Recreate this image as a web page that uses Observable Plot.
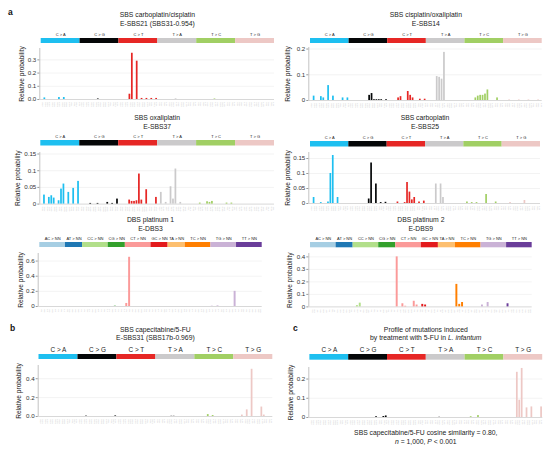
<!DOCTYPE html>
<html><head><meta charset="utf-8">
<script src="https://cdn.jsdelivr.net/npm/d3@7"></script>
<script src="https://cdn.jsdelivr.net/npm/@observablehq/plot@0.6"></script>
<style>
body{margin:0;background:#fff;font-family:"Liberation Sans",Arial,sans-serif;color:#222;}
#fig{position:relative;width:560px;height:451px;overflow:hidden;background:#fff;}
.abs{position:absolute;}
.title{position:absolute;text-align:center;font-size:6.8px;line-height:8.6px;color:#222;white-space:nowrap;}
.plab{position:absolute;font-weight:bold;font-size:8.5px;color:#111;}
</style></head><body><div id="fig"></div>
<script>
// ---------- categories ----------
const sbsTypes = ["C > A","C > G","C > T","T > A","T > C","T > G"];
const sbsColors = ["#1ebff0","#050708","#e62725","#cbcacb","#a1cf64","#edc8c5"];
const sbsContexts = ["A_A","A_C","A_G","A_T","C_A","C_C","C_G","C_T","G_A","G_C","G_G","G_T","T_A","T_C","T_G","T_T"];
const dbsTypes = ["AC > NN","AT > NN","CC > NN","CG > NN","CT > NN","GC > NN","TA > NN","TC > NN","TG > NN","TT > NN"];
const dbsCounts = [9,6,9,6,9,6,6,9,9,9];
const dbsColors = ["#a6cee3","#1f78b4","#b2df8a","#33a02c","#fb9a99","#e31a1c","#fdbf6f","#ff7f00","#cab2d6","#6a3d9a"];
const dbsAlts = [
  ["CA","CG","CT","GA","GG","GT","TA","TG","TT"],
  ["CA","CC","CG","GA","GC","TA"],
  ["AA","AG","AT","GA","GG","GT","TA","TG","TT"],
  ["AT","GC","GT","TA","TC","TT"],
  ["AA","AC","AG","GA","GC","GG","TA","TC","TG"],
  ["AA","AG","AT","CA","CG","TA"],
  ["AT","CG","CT","GC","GG","GT"],
  ["AA","AG","AT","CA","CG","CT","GA","GG","GT"],
  ["AA","AC","AT","CA","CC","CT","GA","GC","GT"],
  ["AA","AC","AG","CA","CC","CG","GA","GC","GG"]
];

// ---------- series values ----------
// SBS arrays: 96 values, 16 per mutation type (C>A, C>G, C>T, T>A, T>C, T>G)
const eSBS21 = [
  0,0.012,0,0,0,0,0,0.015,0,0.015,0,0,0,0,0,0,
  0,0,0,0,0,0,0,0.004,0,0,0,0,0,0,0,0,
  0,0,0,0,0.04,0.35,0,0.29,0,0.008,0,0.008,0,0.008,0,0.008,
  0,0,0,0,0,0,0,0.005,0,0,0,0,0,0,0,0,
  0,0,0,0,0,0,0,0.004,0,0,0,0,0,0,0,0,
  0,0,0,0,0,0,0,0,0,0,0,0,0,0,0,0
];
const eSBS14 = [
  0,0.017,0,0,0.015,0.01,0,0.058,0,0.017,0,0,0,0.01,0,0.01,
  0,0,0,0,0,0,0,0,0.02,0.027,0.003,0.003,0.003,0.003,0,0.003,
  0,0,0,0,0.01,0.015,0,0,0.035,0.02,0.01,0,0,0.005,0,0.005,
  0,0,0,0,0.093,0.09,0.083,0.187,0,0,0,0,0,0,0,0,
  0,0,0,0,0.01,0.017,0.02,0.02,0.025,0.041,0,0,0,0.01,0,0,
  0,0,0.002,0,0,0,0.002,0,0,0,0.002,0,0,0,0.002,0
];
const eSBS37 = [
  0,0.027,0,0.02,0.025,0.018,0,0.01,0.045,0.06,0,0.035,0,0.047,0,0.068,
  0,0,0,0,0.002,0,0,0.002,0,0,0,0.005,0,0.002,0,0.015,
  0,0,0,0,0.012,0.008,0.008,0.01,0.09,0.012,0,0.043,0,0,0,0.02,
  0,0.035,0,0.005,0,0.052,0.015,0.105,0,0.005,0,0,0,0,0,0,
  0,0.003,0,0,0.007,0.005,0.008,0,0,0,0,0,0.003,0,0.003,0,
  0,0,0,0,0,0,0,0,0,0,0,0,0,0,0,0
];
const eSBS25 = [
  0,0.02,0,0,0.003,0,0,0.005,0.1,0.16,0,0.02,0,0,0,0,
  0,0,0,0,0,0,0,0,0.015,0.135,0,0.065,0,0.003,0,0.004,
  0,0,0,0,0.005,0,0,0.003,0.07,0.038,0.012,0.02,0,0.005,0,0.008,
  0,0,0,0,0.065,0,0.065,0.02,0,0,0,0,0,0,0,0,
  0,0.005,0,0.003,0,0.003,0,0,0,0.03,0,0,0,0.005,0,0,
  0,0,0,0.003,0,0,0,0,0,0.01,0,0,0,0,0,0
];
const eSBS31 = [
  0,0,0,0,0,0,0,0,0,0,0,0,0,0,0,0,
  0,0,0,0.004,0,0,0,0,0,0,0,0,0,0,0,0.006,
  0,0,0,0,0,0,0,0,0,0,0,0,0,0,0,0,
  0,0,0,0,0,0,0.01,0.01,0,0,0,0,0,0,0,0,
  0,0,0,0,0,0.02,0,0.01,0,0,0,0,0,0,0,0,
  0,0,0,0.015,0,0.07,0,0.5,0,0,0,0.1,0.015,0,0,0
];
const fuLinfantum = [
  0,0,0,0,0,0,0,0,0,0,0,0,0,0,0,0,
  0,0,0,0,0,0,0,0,0,0,0,0.004,0,0,0.005,0.008,
  0,0,0,0,0,0,0,0,0,0,0,0,0,0,0,0,
  0,0,0,0,0,0.005,0,0,0,0,0,0,0,0,0,0,
  0,0,0.004,0,0,0.01,0,0,0,0,0,0,0,0,0,0,
  0,0,0,0,0,0.235,0.09,0.255,0,0.05,0,0.055,0,0,0,0.055
];
// DBS arrays: 78 values grouped AC(9) AT(6) CC(9) CG(6) CT(9) GC(6) TA(6) TC(9) TG(9) TT(9)
const eDBS3 = [
  0,0,0,0,0,0,0,0,0,
  0,0,0,0,0,0,
  0,0,0,0,0,0,0,0,0,
  0,0,0.004,0,0,0,
  0.04,0.65,0,0,0,0,0,0,0,
  0,0,0,0,0,0,
  0,0,0,0,0,0,
  0,0,0,0,0,0,0,0,0,
  0.004,0,0.008,0,0,0,0,0,0.2,
  0,0,0,0,0,0,0,0,0
];
const eDBS9 = [
  0,0,0,0,0,0,0,0,0,
  0,0,0,0,0,0,
  0,0.01,0.03,0,0,0,0,0,0,
  0,0,0,0,0,0,
  0.4,0,0.025,0.005,0,0,0.045,0.015,0,
  0.02,0.015,0,0,0,0,
  0,0,0,0,0,0,
  0.18,0.02,0.035,0,0,0,0,0,0,
  0.015,0,0.035,0,0,0,0,0,0,
  0.025,0,0,0,0,0,0,0,0
];

// ---------- helpers ----------
function sbsRows(vals){
  return vals.map((v,i)=>{const t=Math.floor(i/16), c=sbsContexts[i%16], mid=sbsTypes[t][0];
    return {i, v, color: sbsColors[t], ctx: c[0]+mid+c[2]};});
}
function dbsRows(vals){
  const rows=[]; let i=0;
  dbsCounts.forEach((n,g)=>{for(let k=0;k<n;k++){rows.push({i, v: vals[i], color: dbsColors[g], ctx: dbsAlts[g][k]}); i++;}});
  return rows;
}
function sbsGroups(){return sbsTypes.map((t,k)=>({start:k*16,end:k*16+16,label:t,color:sbsColors[k]}));}
function dbsGroups(){let s=0;return dbsTypes.map((t,k)=>{const g={start:s,end:s+dbsCounts[k],label:t,color:dbsColors[k]};s+=dbsCounts[k];return g;});}

const fig = document.getElementById("fig");
function place(node, left, top){const d=document.createElement("div");d.className="abs";d.style.left=left+"px";d.style.top=top+"px";d.appendChild(node);fig.appendChild(d);}
function html(cls, left, top, inner, extra){const d=document.createElement("div");d.className=cls;d.style.left=left+"px";d.style.top=top+"px";d.innerHTML=inner;if(extra)Object.assign(d.style,extra);fig.appendChild(d);}

const FONT = '"Liberation Sans", Arial, sans-serif';

function panel(cfg){
  const rows = cfg.kind==="sbs" ? sbsRows(cfg.values) : dbsRows(cfg.values);
  const groups = cfg.kind==="sbs" ? sbsGroups() : dbsGroups();
  const n = rows.length, W = 280;
  const r = (cfg.x0 - cfg.axisX)/(cfg.x1 - cfg.axisX);
  const d0 = r*n/(1-r);
  const xDomain = [-d0, n];
  const mL = cfg.axisX - cfg.L0, mR = cfg.L0 + W - cfg.x1;
  const mt = 4, mb = 12;
  const H = (cfg.yZero - cfg.yTop) + mt + mb;
  const main = Plot.plot({
    width: W, height: H, marginLeft: mL, marginRight: mR, marginTop: mt, marginBottom: mb,
    x: {domain: xDomain, axis: null},
    y: {domain: [0, cfg.ymax], axis: null},
    style: {background: "transparent", fontFamily: FONT, color: "#333", overflow: "visible"},
    marks: [
      Plot.ruleY(cfg.ticks.filter(t=>t>0), {stroke: "#e6e6e6", strokeWidth: 0.5}),
      Plot.ruleY([0], {stroke: "#bdbdbd", strokeWidth: 0.6}),
      Plot.rectY(rows.filter(d=>d.v>0), {x1: "i", x2: d=>d.i+1, y: "v", fill: "color", insetLeft: cfg.inset, insetRight: cfg.inset}),
      Plot.ruleX([-d0], {stroke: "#9a9a9a", strokeWidth: 0.6}),
      Plot.axisY({ticks: cfg.ticks, tickFormat: cfg.fmt, tickSize: 2, tickPadding: 1.5, fontSize: 6.2, label: null, stroke: "#9a9a9a"}),
      Plot.text(rows, {x: d=>d.i+0.5, frameAnchor: "bottom", dy: 2.5, rotate: -90, textAnchor: "end", lineAnchor: "middle", text: "ctx", fontSize: 2.2, fill: "#c4c4c4"}),
      Plot.text(["Relative probability"], {frameAnchor: "left", rotate: -90, lineAnchor: "middle", textAnchor: "middle", dx: cfg.ylabX - cfg.axisX, text: d=>d, fontSize: 6.6, fill: "#222"})
    ]
  });
  place(main, cfg.L0, cfg.yTop - mt);

  const hmt = 10, bh = cfg.bandB - cfg.bandT;
  const header = Plot.plot({
    width: W, height: bh + hmt, marginLeft: mL, marginRight: mR, marginTop: hmt, marginBottom: 0,
    x: {domain: xDomain, axis: null},
    style: {background: "transparent", fontFamily: FONT, overflow: "visible"},
    marks: [
      Plot.barX(groups, {x1: "start", x2: "end", fill: "color"}),
      Plot.text(groups, {x: d=>(d.start+d.end)/2, frameAnchor: "top", lineAnchor: "middle", dy: cfg.labY - cfg.bandT, text: "label", fontSize: cfg.labFont, fill: "#222"})
    ]
  });
  place(header, cfg.L0, cfg.bandT - hmt);

  const cx = (cfg.x0 + cfg.x1)/2;
  html("title", cx-130, cfg.t1 - 4.3, cfg.title, {width: "260px"});
}

const f1 = v => v.toFixed(1);
const fTrim = v => v===0 ? "0" : String(+v.toFixed(2));

// ---------- panels ----------
panel({kind:"sbs", values:eSBS21, L0:0, axisX:39.3, x0:40.7, x1:274, yZero:99, yTop:48, ymax:0.386,
  ticks:[0,0.1,0.2,0.3], fmt:f1, bandT:37.7, bandB:42.7, labY:34.3, labFont:4, inset:0.35, ylabX:21.7, t1:15.7,
  title:"SBS carboplatin/cisplatin<br>E-SBS21 (SBS31-0.954)"});
panel({kind:"sbs", values:eSBS14, L0:280, axisX:308.3, x0:310, x1:541.7, yZero:100, yTop:47, ymax:0.206,
  ticks:[0,0.1,0.2], fmt:fTrim, bandT:37.7, bandB:42.7, labY:34.3, labFont:4, inset:0.35, ylabX:287, t1:15.7,
  title:"SBS cisplatin/oxaliplatin<br>E-SBS14"});
panel({kind:"sbs", values:eSBS37, L0:0, axisX:39.3, x0:40.3, x1:274, yZero:203.3, yTop:151.7, ymax:0.1545,
  ticks:[0,0.05,0.1,0.15], fmt:fTrim, bandT:140.3, bandB:145.8, labY:136.8, labFont:4, inset:0.35, ylabX:17.5, t1:118.5,
  title:"SBS oxaliplatin<br>E-SBS37"});
panel({kind:"sbs", values:eSBS25, L0:280, axisX:308.3, x0:310, x1:540, yZero:202.7, yTop:151.7, ymax:0.17,
  ticks:[0,0.05,0.1,0.15], fmt:fTrim, bandT:140.5, bandB:146, labY:137, labFont:4, inset:0.35, ylabX:287.5, t1:118.5,
  title:"SBS carboplatin<br>E-SBS25"});
panel({kind:"dbs", values:eDBS3, L0:0, axisX:37.7, x0:39.3, x1:261.7, yZero:306.3, yTop:253.3, ymax:0.70,
  ticks:[0,0.2,0.4,0.6], fmt:fTrim, bandT:242.3, bandB:247.3, labY:238.5, labFont:4, inset:0.45, ylabX:20, t1:220.5,
  title:"DBS platinum 1<br>E-DBS3"});
panel({kind:"dbs", values:eDBS9, L0:280, axisX:308.3, x0:310, x1:531.7, yZero:306.7, yTop:253.3, ymax:0.427,
  ticks:[0,0.1,0.2,0.3,0.4], fmt:fTrim, bandT:242, bandB:247.3, labY:238.5, labFont:4, inset:0.45, ylabX:289.5, t1:220.5,
  title:"DBS platinum 2<br>E-DBS9"});
panel({kind:"sbs", values:eSBS31, L0:0, axisX:37.7, x0:38.5, x1:272.3, yZero:416, yTop:365, ymax:0.54,
  ticks:[0,0.2,0.4], fmt:f1, bandT:354.3, bandB:359.3, labY:349.8, labFont:6.4, inset:0.35, ylabX:18.5, t1:330,
  title:"SBS capecitabine/5-FU<br>E-SBS31 (SBS17b-0.969)"});
panel({kind:"sbs", values:fuLinfantum, L0:280, axisX:308.3, x0:309.3, x1:542.3, yZero:416.7, yTop:366.7, ymax:0.26,
  ticks:[0,0.1,0.2], fmt:fTrim, bandT:354.3, bandB:360, labY:349.5, labFont:6.4, inset:0.35, ylabX:290, t1:330,
  title:"Profile of mutations induced<br>by treatment with 5-FU in <i>L. infantum</i>"});

// caption and panel letters
html("title", 425.8-130, 433.3-4.3, "SBS capecitabine/5-FU cosine similarity = 0.80,<br><i>n</i> = 1,000, <i>P</i> &lt; 0.001", {width:"260px"});
html("plab", 8, 7, "a");
html("plab", 10, 323, "b");
html("plab", 293, 323, "c");
</script></body></html>
